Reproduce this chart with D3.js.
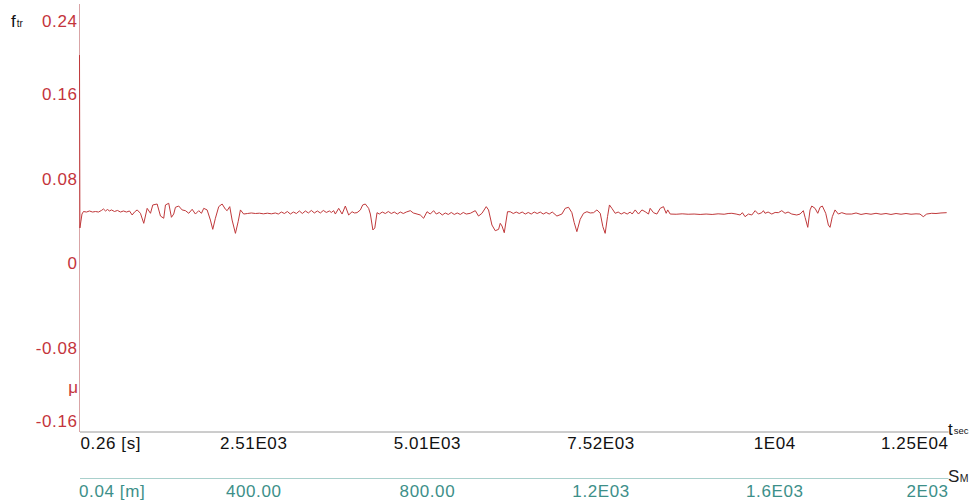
<!DOCTYPE html>
<html>
<head>
<meta charset="utf-8">
<script src="https://cdn.jsdelivr.net/npm/d3@7"></script>
<style>
  html, body { margin: 0; padding: 0; background: #fff; }
  svg { display: block; }
  text { font-family: "Liberation Sans", Arial, Helvetica, sans-serif; }
</style>
</head>
<body>
<svg id="chart" width="977" height="502"></svg>
<script>
// ---- data ----
const timeSec = [0.26, 6, 19, 36, 58, 101, 144, 188, 231, 274, 317, 346, 375, 404, 433, 461, 505, 548, 591, 634, 678, 721, 760, 793, 832, 879, 927, 976, 1024, 1057, 1120, 1168, 1215, 1240, 1287, 1326, 1359, 1384, 1431, 1480, 1528, 1576, 1625, 1672, 1720, 1759, 1792, 1841, 1888, 1922, 1960, 2008, 2057, 2105, 2129, 2167, 2201, 2249, 2288, 2321, 2368, 2422, 2479, 2537, 2595, 2652, 2710, 2768, 2825, 2868, 2912, 2955, 2998, 3041, 3085, 3128, 3171, 3214, 3258, 3301, 3344, 3387, 3431, 3474, 3517, 3560, 3604, 3632, 3666, 3690, 3738, 3787, 3834, 3882, 3931, 3964, 4003, 4051, 4084, 4122, 4170, 4195, 4231, 4259, 4291, 4324, 4367, 4411, 4454, 4497, 4540, 4584, 4627, 4670, 4713, 4771, 4814, 4868, 4915, 4963, 5012, 5059, 5107, 5146, 5189, 5232, 5275, 5319, 5362, 5405, 5448, 5492, 5535, 5578, 5636, 5708, 5755, 5804, 5866, 5899, 5948, 5996, 6044, 6068, 6093, 6126, 6173, 6212, 6256, 6299, 6342, 6385, 6429, 6472, 6515, 6558, 6601, 6645, 6688, 6731, 6774, 6818, 6885, 6957, 7005, 7053, 7101, 7135, 7173, 7221, 7269, 7318, 7366, 7414, 7462, 7510, 7548, 7581, 7615, 7643, 7678, 7726, 7769, 7812, 7855, 7899, 7942, 7971, 8014, 8062, 8111, 8158, 8206, 8230, 8278, 8327, 8375, 8422, 8461, 8483, 8519, 8605, 8692, 8778, 8864, 8951, 9037, 9124, 9210, 9297, 9354, 9408, 9470, 9527, 9560, 9599, 9647, 9696, 9744, 9791, 9840, 9863, 9887, 9931, 9984, 10032, 10079, 10128, 10176, 10219, 10272, 10344, 10392, 10439, 10464, 10503, 10536, 10561, 10608, 10647, 10680, 10713, 10762, 10800, 10824, 10857, 10896, 10944, 10993, 11055, 11137, 11199, 11271, 11343, 11415, 11487, 11559, 11631, 11703, 11776, 11848, 11920, 11992, 12064, 12121, 12169, 12218, 12290, 12352, 12424, 12506];

const friction = [0.1973, 0.0334, 0.0391, 0.0466, 0.0490, 0.0485, 0.0495, 0.0485, 0.0490, 0.0485, 0.0500, 0.0514, 0.0495, 0.0509, 0.0495, 0.0505, 0.0490, 0.0500, 0.0485, 0.0495, 0.0485, 0.0495, 0.0457, 0.0485, 0.0505, 0.0473, 0.0378, 0.0520, 0.0473, 0.0552, 0.0561, 0.0447, 0.0426, 0.0552, 0.0568, 0.0435, 0.0466, 0.0530, 0.0542, 0.0505, 0.0498, 0.0473, 0.0511, 0.0466, 0.0498, 0.0473, 0.0520, 0.0505, 0.0409, 0.0321, 0.0426, 0.0536, 0.0561, 0.0511, 0.0498, 0.0536, 0.0409, 0.0283, 0.0393, 0.0505, 0.0466, 0.0471, 0.0476, 0.0471, 0.0474, 0.0468, 0.0474, 0.0468, 0.0476, 0.0466, 0.0485, 0.0471, 0.0490, 0.0466, 0.0485, 0.0471, 0.0495, 0.0471, 0.0495, 0.0476, 0.0500, 0.0476, 0.0495, 0.0476, 0.0500, 0.0481, 0.0495, 0.0481, 0.0498, 0.0466, 0.0520, 0.0466, 0.0542, 0.0457, 0.0488, 0.0476, 0.0479, 0.0505, 0.0552, 0.0561, 0.0520, 0.0466, 0.0315, 0.0334, 0.0479, 0.0466, 0.0485, 0.0471, 0.0490, 0.0471, 0.0485, 0.0466, 0.0485, 0.0471, 0.0485, 0.0498, 0.0476, 0.0466, 0.0457, 0.0426, 0.0488, 0.0466, 0.0498, 0.0466, 0.0481, 0.0457, 0.0476, 0.0462, 0.0481, 0.0462, 0.0476, 0.0462, 0.0481, 0.0466, 0.0473, 0.0498, 0.0447, 0.0473, 0.0536, 0.0505, 0.0362, 0.0308, 0.0321, 0.0378, 0.0353, 0.0289, 0.0488, 0.0488, 0.0471, 0.0485, 0.0471, 0.0485, 0.0466, 0.0481, 0.0466, 0.0485, 0.0471, 0.0485, 0.0466, 0.0481, 0.0466, 0.0485, 0.0447, 0.0466, 0.0520, 0.0530, 0.0479, 0.0384, 0.0299, 0.0416, 0.0473, 0.0488, 0.0476, 0.0479, 0.0505, 0.0473, 0.0346, 0.0283, 0.0441, 0.0552, 0.0520, 0.0473, 0.0485, 0.0466, 0.0481, 0.0466, 0.0485, 0.0466, 0.0505, 0.0466, 0.0505, 0.0488, 0.0466, 0.0520, 0.0479, 0.0466, 0.0520, 0.0536, 0.0473, 0.0505, 0.0466, 0.0464, 0.0468, 0.0464, 0.0466, 0.0462, 0.0466, 0.0462, 0.0468, 0.0464, 0.0471, 0.0473, 0.0466, 0.0457, 0.0479, 0.0441, 0.0466, 0.0457, 0.0498, 0.0466, 0.0479, 0.0498, 0.0473, 0.0485, 0.0466, 0.0481, 0.0479, 0.0498, 0.0473, 0.0485, 0.0466, 0.0457, 0.0466, 0.0498, 0.0435, 0.0340, 0.0505, 0.0542, 0.0520, 0.0473, 0.0530, 0.0542, 0.0473, 0.0362, 0.0340, 0.0441, 0.0505, 0.0466, 0.0479, 0.0466, 0.0466, 0.0476, 0.0462, 0.0471, 0.0464, 0.0473, 0.0464, 0.0471, 0.0462, 0.0471, 0.0464, 0.0471, 0.0464, 0.0468, 0.0466, 0.0441, 0.0466, 0.0473, 0.0471, 0.0476, 0.0479];

const fTicks = [0.24, 0.16, 0.08, 0, -0.08, -0.16];
const fTickLabels = ["0.24", "0.16", "0.08", "0", "-0.08", "-0.16"];
const timeTicks = [0.26, 2505.26, 5010.26, 7515.26, 10020.26, 12525.26];
const timeTickLabels = ["0.26 [s]", "2.51E03", "5.01E03", "7.52E03", "1E04", "1.25E04"];
const distTicks = [0.04, 400.04, 800.04, 1200.04, 1600.04, 2000.04];
const distTickLabels = ["0.04 [m]", "400.00", "800.00", "1.2E03", "1.6E03", "2E03"];

// ---- layout ----
const svg = d3.select("#chart");
const left = 79.5, right = 948;
const axisY = 431.5, axis2Y = 478;
const RED = "#c4343c", LINE = "#c0393b", TEAL = "#3d8f89";

const x = d3.scaleLinear().domain([timeTicks[0], timeTicks[timeTicks.length - 1]]).range([left, right]);
const xs = d3.scaleLinear().domain([distTicks[0], distTicks[distTicks.length - 1]]).range([left, right]);
const y = d3.scaleLinear().domain([-0.16, 0.24]).range([432, 10]);

// y axis
const yAxisG = svg.append("g").attr("transform", `translate(${left},0)`)
  .call(d3.axisLeft(y).tickValues(fTicks).tickSize(0).tickPadding(2)
    .tickFormat((d, i) => fTickLabels[i]));
yAxisG.select(".domain").remove();
yAxisG.selectAll("text")
  .attr("fill", RED).attr("font-size", 17).attr("letter-spacing", "0.6px")
  .attr("font-family", "Liberation Sans, Arial, sans-serif")
  .attr("transform", (d, i) => i === 0 ? "translate(0,11)" : (i === fTicks.length - 1 ? "translate(0,-11)" : null));
svg.append("line").attr("x1", left).attr("x2", left).attr("y1", 4).attr("y2", y(-0.16))
  .attr("stroke", "#d9a4a6").attr("stroke-width", 1);

// x axis (time)
const xAxisG = svg.append("g").attr("transform", `translate(0,${axisY})`)
  .call(d3.axisBottom(x).tickValues(timeTicks).tickSize(0).tickSizeOuter(0)
    .tickFormat((d, i) => timeTickLabels[i]));
xAxisG.select(".domain").attr("stroke", "#9a9a9a").attr("stroke-width", 1);
xAxisG.selectAll("text")
  .attr("fill", "#111").attr("font-size", 17).attr("letter-spacing", "0.6px")
  .attr("font-family", "Liberation Sans, Arial, sans-serif")
  .attr("y", 5.5).attr("dy", "0.71em")
  .attr("text-anchor", (d, i) => i === 0 ? "start" : (i === timeTicks.length - 1 ? "end" : "middle"))
  .attr("dx", (d, i) => i === 0 ? 0.5 : 0);

// x axis (distance)
const sAxisG = svg.append("g").attr("transform", `translate(0,${axis2Y})`)
  .call(d3.axisBottom(xs).tickValues(distTicks).tickSize(0).tickSizeOuter(0)
    .tickFormat((d, i) => distTickLabels[i]));
sAxisG.select(".domain").attr("stroke", "#a9d0cc").attr("stroke-width", 1);
sAxisG.selectAll("text")
  .attr("fill", TEAL).attr("font-size", 17).attr("letter-spacing", "0.6px")
  .attr("font-family", "Liberation Sans, Arial, sans-serif")
  .attr("y", 6.5).attr("dy", "0.71em")
  .attr("text-anchor", (d, i) => i === 0 ? "start" : (i === distTicks.length - 1 ? "end" : "middle"))
  .attr("dx", (d, i) => i === 0 ? -1 : 0);

// data line
const pts = timeSec.map((t, i) => [t, friction[i]]);
svg.append("path")
  .datum(pts)
  .attr("fill", "none")
  .attr("stroke", LINE)
  .attr("stroke-width", 1)
  .attr("stroke-linejoin", "round")
  .attr("d", d3.line().x(d => x(d[0])).y(d => y(d[1])));

// axis titles
const fT = svg.append("text").attr("x", 11).attr("y", 27).attr("fill", "#111").attr("font-size", 17);
fT.append("tspan").text("f");
fT.append("tspan").attr("font-size", 10).attr("dx", 1).text("tr");

svg.append("text").attr("x", 78).attr("y", 393).attr("text-anchor", "end")
  .attr("fill", RED).attr("font-size", 17).text("μ");

const tT = svg.append("text").attr("x", 948).attr("y", 435).attr("fill", "#111").attr("font-size", 17);
tT.append("tspan").text("t");
tT.append("tspan").attr("font-size", 9.5).attr("dx", 1).attr("dy", -1).text("sec");

const sT = svg.append("text").attr("x", 948).attr("y", 482).attr("fill", "#222").attr("font-size", 17);
sT.append("tspan").text("S");
sT.append("tspan").attr("font-size", 10.5).attr("dx", 0.5).text("M");
</script>
</body>
</html>
